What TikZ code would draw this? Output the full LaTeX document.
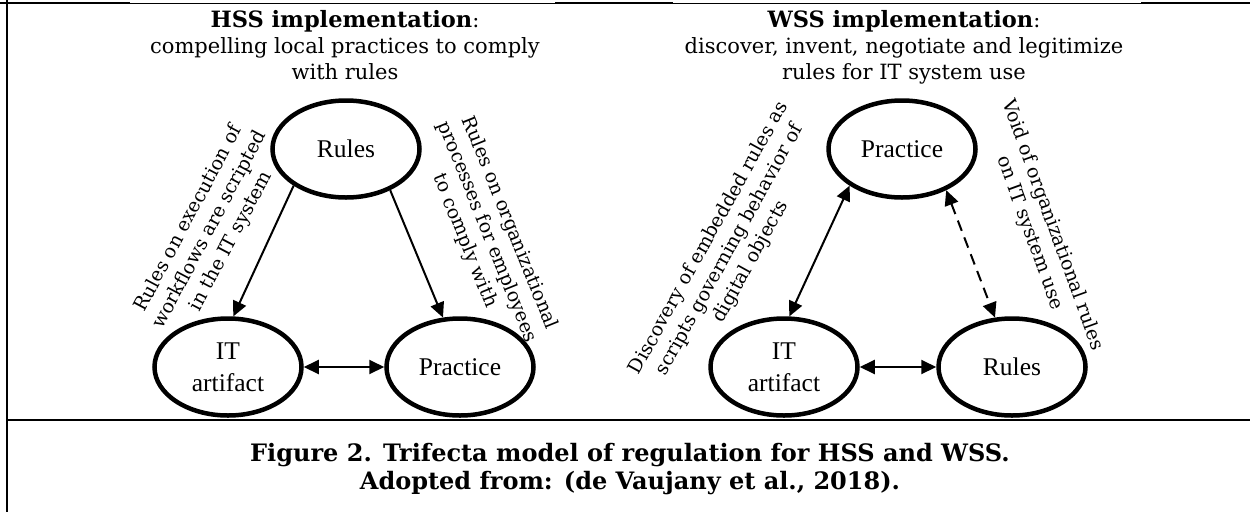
\documentclass[tikz,border=0pt]{standalone}
\usepackage{fontspec}
\setmainfont{DejaVu Serif}
\newfontfamily\ellfont{Liberation Serif}
\usetikzlibrary{arrows.meta,shapes.geometric}
\begin{document}
\begin{tikzpicture}[x=1pt,y=-1pt,
 ell/.style={ellipse,draw,line width=4.5pt,minimum width=147pt,minimum height=97pt,inner sep=2pt,align=center,font=\ellfont\fontsize{25.5}{32}\selectfont},
 lab/.style={align=center,inner sep=0pt,font=\fontsize{19}{24}\selectfont},
 ttl/.style={align=center,inner sep=0pt,anchor=north,font=\fontsize{21}{26}\selectfont},
 ttlhead/.style={font=\bfseries\fontsize{22.5}{26}\selectfont},
 captxt/.style={align=center,inner sep=0pt,anchor=north,font=\bfseries\fontsize{24}{28}\selectfont},
 arrone/.style={line width=2pt,-{Triangle[length=15pt,width=14pt]}},
 arrtwo/.style={line width=2pt,{Triangle[length=15pt,width=14pt]}-{Triangle[length=15pt,width=14pt]}},
 borderline/.style={line width=2pt}
]
\useasboundingbox (0,0) rectangle (1250,512);
% frame
\draw[line width=2.4pt] (0,2.8) -- (1250,2.8);
\fill[white] (130,0) rectangle (555,2.6);
\fill[white] (673,0) rectangle (1141,2.6);
\draw[borderline] (7,0) -- (7,512);
\draw[borderline] (7,420) -- (1250,420);
% titles
\node[ttl] (t1) at (345,10) {{\bfseries\fontsize{22.5}{26}\selectfont HSS implementation}:\\compelling local practices to comply\\with rules};
\node[ttl] (t2) at (904,10) {{\bfseries\fontsize{22.5}{26}\selectfont WSS implementation}:\\discover, invent, negotiate and legitimize\\rules for IT system use};
% left diagram
\node[ell] (rulesL) at (346,149) {Rules};
\node[ell] (itL) at (228,367) {IT\\artifact};
\node[ell] (pracL) at (460,367) {Practice};
\draw[arrone] (rulesL.215) -- (itL.84);
\draw[arrone] (rulesL.317) -- (pracL.109);
\draw[arrtwo] (itL.east) -- (pracL.west);
\node[lab,rotate=62] (l1) at (210,230) {Rules on execution of\\workflows are scripted\\in the IT system};
\node[lab,rotate=-68] (l2) at (487,232) {Rules on organizational\\processes for employees\\to comply with};
% right diagram
\node[ell] (pracR) at (902,149) {Practice};
\node[ell] (itR) at (784,367) {IT\\artifact};
\node[ell] (rulesR) at (1012,367) {Rules};
\draw[arrtwo] (itR.84) -- (pracR.215);
\draw[arrtwo,dash pattern=on 11pt off 7pt] (pracR.317) -- (rulesR.109);
\draw[arrtwo] (itR.east) -- (rulesR.west);
\node[lab,rotate=61] (l3) at (730,250) {Discovery of embedded rules as\\scripts governing behavior of\\digital objects};
\node[lab,rotate=-70] (l4) at (1041,229) {Void of organizational rules\\on IT system use};
% caption
\node[captxt] (cap) at (630,443) {Figure 2. Trifecta model of regulation for HSS and WSS.\\Adopted from: (de Vaujany et al., 2018).};
\end{tikzpicture}
\end{document}
